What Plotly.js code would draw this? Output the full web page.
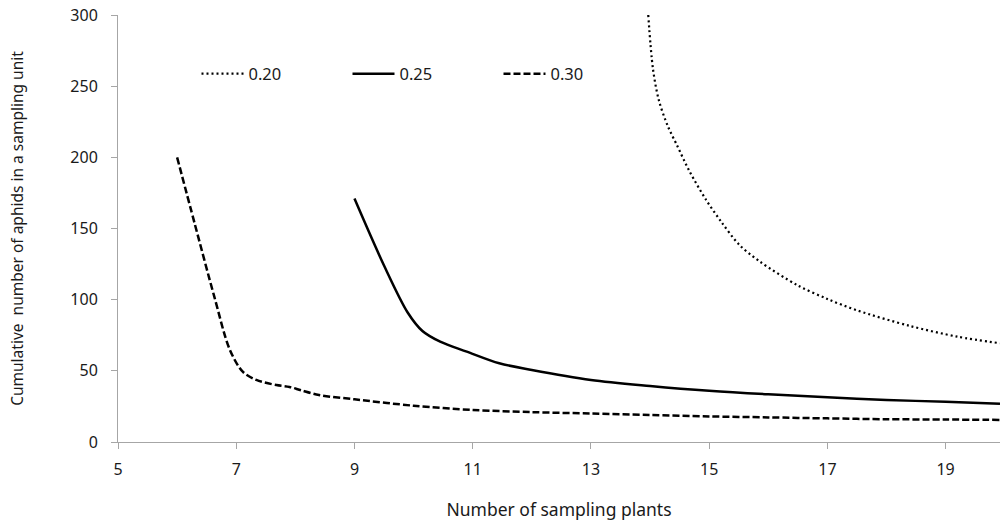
<!DOCTYPE html>
<html>
<head>
<meta charset="utf-8">
<script src="https://cdn.plot.ly/plotly-3.0.1.min.js"></script>
<style>
  html, body { margin: 0; padding: 0; background: #fff; }
  #chart { width: 1000px; height: 526px; }
</style>
</head>
<body>
<div id="chart"></div>
<script>
// Cumulative aphid count per sampling unit against number of sampling plants,
// one curve per precision level.
const levels = ["0.20", "0.25", "0.30"];

const plants020 = [13.97, 14.05, 14.15, 14.3, 14.45, 14.67, 14.95, 15.2, 15.5, 15.85, 16.5, 17.0, 17.5, 18.4, 19.2, 19.92];
const aphids020 = [300, 262, 240, 222, 209, 190, 170, 155, 139, 127, 110, 100.5, 92.5, 81.5, 74, 69.4];

const plants025 = [9.0, 9.5, 9.9, 10.15, 10.45, 10.9, 11.45, 12, 13, 14, 15, 16, 17, 18, 19, 19.92];
const aphids025 = [171, 124, 91, 78, 70.5, 63.5, 55.3, 50.6, 43.6, 39.4, 36, 33.5, 31.5, 29.5, 28.3, 26.8];

const plants030 = [6.0, 6.3, 6.63, 6.89, 7.11, 7.34, 7.68, 7.9, 8.1, 8.4, 9, 10, 11, 12, 13, 14, 15, 16, 17, 18, 19, 19.92];
const aphids030 = [200, 153, 102, 65, 49.4, 43.6, 40, 38.7, 36.3, 33, 30, 25.5, 22.5, 21, 20, 19, 18, 17.3, 16.6, 16, 15.8, 15.5];

const xTicks = [5, 7, 9, 11, 13, 15, 17, 19];
const yTicks = [0, 50, 100, 150, 200, 250, 300];

const fontFamily = "'Noto Sans', 'DejaVu Sans', sans-serif";
const textColor = "#1a1a1a";
const axisGrey = "#a6a6a6";

function curve(x, y, name, dash, width) {
  return {
    x: x, y: y, name: name, type: "scatter", mode: "lines",
    line: { color: "#000000", width: width, dash: dash, shape: "spline", smoothing: 0.9 },
    hoverinfo: "skip"
  };
}

const traces = [
  curve(plants020, aphids020, levels[0], "2px,3px", 2.2),
  curve(plants025, aphids025, levels[1], "solid", 2.5),
  curve(plants030, aphids030, levels[2], "7px,3px", 2.5)
];

const layout = {
  width: 1000,
  height: 526,
  margin: { l: 118, r: 0, t: 15, b: 84 },
  paper_bgcolor: "#ffffff",
  plot_bgcolor: "#ffffff",
  font: { family: fontFamily, size: 16, color: textColor },
  showlegend: true,
  legend: {
    orientation: "h",
    x: 0.089, xanchor: "left",
    y: 0.862, yanchor: "middle",
    bgcolor: "rgba(0,0,0,0)",
    borderwidth: 0,
    itemwidth: 42,
    entrywidth: 94,
    font: { family: fontFamily, size: 16.5, color: textColor }
  },
  xaxis: {
    range: [5, 19.92],
    tickvals: xTicks,
    ticktext: xTicks.map(String),
    showgrid: false,
    zeroline: false,
    showline: true,
    linecolor: axisGrey,
    linewidth: 1,
    ticks: "outside",
    ticklen: 6,
    tickcolor: axisGrey,
    ticklabelstandoff: 7,
    tickfont: { family: fontFamily, size: 16, color: textColor },
    title: { text: "Number of sampling plants", font: { family: fontFamily, size: 17.5, color: textColor }, standoff: 24 }
  },
  yaxis: {
    range: [0, 300],
    tickvals: yTicks,
    ticktext: yTicks.map(String),
    showgrid: false,
    zeroline: false,
    showline: true,
    linecolor: axisGrey,
    linewidth: 1,
    ticks: "outside",
    ticklen: 6,
    tickcolor: axisGrey,
    ticklabelstandoff: 10,
    tickfont: { family: fontFamily, size: 16, color: textColor },
    title: { text: "Cumulative  number of aphids in a sampling unit", font: { family: fontFamily, size: 15.5, color: textColor }, standoff: 42 }
  }
};

Plotly.newPlot("chart", traces, layout, { staticPlot: true, displayModeBar: false });
</script>
</body>
</html>
